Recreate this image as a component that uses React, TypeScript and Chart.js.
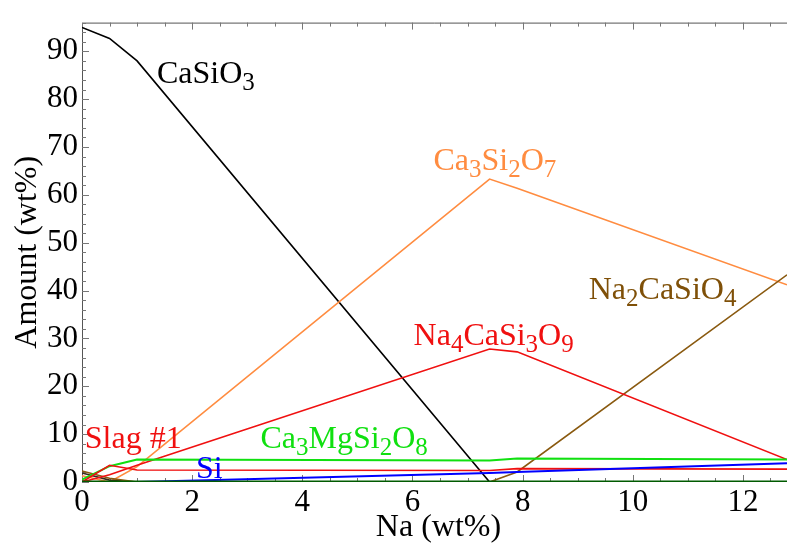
import React, { useEffect, useRef } from "react";
import { Chart, registerables } from "chart.js";

Chart.register(...registerables);

// ---- data ----
const NA_WT = [0, 0.5, 1, 7.4, 7.9, 12.8];
const CASIO3 = [95, 92.7, 88, 0, 0, 0];
const CA3SI2O7 = [1.3, 0, 3.2, 63.3, 61.4, 41.2];
const NA4CASI3O9 = [0, 1.5, 3.5, 27.8, 27.2, 4.7];
const NA2CASIO4 = [2.3, 0.8, 0, 0, 2.1, 43.3];
const CA3MGSI2O8 = [0.5, 3.3, 4.7, 4.5, 4.9, 4.7];
const SLAG1 = [0, 3.5, 2.5, 2.4, 2.8, 2.7];
const SI = [0, 0, 0, 1.9, 2.1, 3.9];
const MINOR_PHASE = [1.9, 0.4, 0, 0, 0, 0];
const ZERO_PHASE = [0, 0, 0, 0, 0, 0];

const X_TICKS = [0, 2, 4, 6, 8, 10, 12];
const Y_TICKS = [0, 10, 20, 30, 40, 50, 60, 70, 80, 90];
const X_MAX = 12.8;
const Y_MAX = 96;

// annotation labels: text with {sub}, anchored at data coords (left, baseline)
const LABELS = [
  { text: "CaSiO{3}", x: 1.36, y: 83.3, color: "#000000" },
  { text: "Ca{3}Si{2}O{7}", x: 6.38, y: 65.1, color: "#ff8c40" },
  { text: "Na{2}CaSiO{4}", x: 9.2, y: 38.2, color: "#7f5008" },
  { text: "Na{4}CaSi{3}O{9}", x: 6.02, y: 28.7, color: "#f01010" },
  { text: "Slag #1", x: 0.05, y: 7.2, color: "#f01010" },
  { text: "Ca{3}MgSi{2}O{8}", x: 3.24, y: 7.2, color: "#10e010" },
  { text: "Si", x: 2.07, y: 0.8, color: "#0000ff" },
];

const FONT = "'Liberation Serif', 'Times New Roman', serif";

function parseSegments(t: string) {
  const segs: { s: string; sub: boolean }[] = [];
  const re = /\{([^}]*)\}|([^{]+)/g;
  let m: RegExpExecArray | null;
  while ((m = re.exec(t))) {
    if (m[1] !== undefined) segs.push({ s: m[1], sub: true });
    else segs.push({ s: m[2], sub: false });
  }
  return segs;
}

const framePlugin = {
  id: "frame",
  beforeDatasetsDraw(chart: any) {
    const { ctx, chartArea, scales } = chart;
    const { left, right, top, bottom } = chartArea;
    const x = scales.x;
    const y = scales.y;
    ctx.save();
    ctx.strokeStyle = "#555555";
    ctx.lineWidth = 1;
    ctx.beginPath();
    ctx.moveTo(left + 0.5, bottom);
    ctx.lineTo(left + 0.5, top + 0.5);
    ctx.lineTo(right, top + 0.5);
    ctx.stroke();
    ctx.strokeStyle = "#777777";
    for (let i = 0; i * 2 <= Y_MAX; i++) {
      const v = i * 2;
      const py = Math.round(y.getPixelForValue(v)) + 0.5;
      const len = v % 10 === 0 ? 7 : 4;
      ctx.beginPath();
      ctx.moveTo(left, py);
      ctx.lineTo(left + len, py);
      ctx.stroke();
    }
    for (let i = 0; i * 0.5 <= X_MAX; i++) {
      const v = i * 0.5;
      const px = Math.round(x.getPixelForValue(v)) + 0.5;
      const len = i % 4 === 0 ? 7 : 4;
      ctx.beginPath();
      ctx.moveTo(px, top);
      ctx.lineTo(px, top + len);
      ctx.moveTo(px, bottom);
      ctx.lineTo(px, bottom - len);
      ctx.stroke();
    }
    ctx.restore();
  },
  afterDatasetsDraw(chart: any) {
    const { ctx, chartArea, scales } = chart;
    const x = scales.x;
    const y = scales.y;
    ctx.save();
    ctx.textBaseline = "alphabetic";
    ctx.textAlign = "left";
    for (const lab of LABELS) {
      let px = x.getPixelForValue(lab.x);
      const py = y.getPixelForValue(lab.y);
      ctx.fillStyle = lab.color;
      for (const seg of parseSegments(lab.text)) {
        if (seg.sub) {
          ctx.font = `25px ${FONT}`;
          ctx.fillText(seg.s, px, py + 7);
        } else {
          ctx.font = `32px ${FONT}`;
          ctx.fillText(seg.s, px, py);
        }
        px += ctx.measureText(seg.s).width;
      }
    }
    // axis titles
    ctx.fillStyle = "#000000";
    ctx.font = `32px ${FONT}`;
    ctx.textAlign = "center";
    ctx.textBaseline = "middle";
    const cx = (chartArea.left + chartArea.right) / 2 + 4;
    ctx.fillText("Na (wt%)", cx, chartArea.bottom + 46);
    const cy = (chartArea.top + chartArea.bottom) / 2;
    ctx.translate(28, cy);
    ctx.rotate(-Math.PI / 2);
    ctx.fillText("Amount (wt%)", 0, 0);
    ctx.restore();
  },
};

function series(vals: number[]) {
  return NA_WT.map((xv, i) => ({ x: xv, y: vals[i] }));
}

export default function App() {
  const ref = useRef<HTMLCanvasElement | null>(null);
  useEffect(() => {
    document.body.style.margin = "0";
    const canvas = ref.current;
    if (!canvas) return;
    const ds = (label: string, vals: number[], color: string, width = 1.6) => ({
      label,
      data: series(vals),
      borderColor: color,
      backgroundColor: color,
      borderWidth: width,
      pointRadius: 0,
      tension: 0,
      fill: false,
    });
    const chart = new Chart(canvas, {
      type: "line",
      data: {
        datasets: [
          ds("zero", ZERO_PHASE, "#005a00", 3),
          ds("Si", SI, "#0000ff", 2),
          ds("Slag #1", SLAG1, "#f01010"),
          ds("Ca3MgSi2O8", CA3MGSI2O8, "#10e010", 2),
          ds("Na4CaSi3O9", NA4CASI3O9, "#f01010"),
          ds("Na2CaSiO4", NA2CASIO4, "#8a5a10"),
          ds("minor", MINOR_PHASE, "#3a2a1a"),
          ds("Ca3Si2O7", CA3SI2O7, "#ff8c40"),
          ds("CaSiO3", CASIO3, "#000000"),
        ],
      },
      options: {
        responsive: false,
        animation: false,
        devicePixelRatio: 1,
        layout: { padding: { top: 17, right: 0, left: 0, bottom: 0 } },
        plugins: { legend: { display: false }, tooltip: { enabled: false } },
        scales: {
          x: {
            type: "linear",
            min: 0,
            max: X_MAX,
            grid: { display: false, drawTicks: false },
            border: { display: false },
            afterBuildTicks: (s: any) => {
              s.ticks = X_TICKS.map((v) => ({ value: v }));
            },
            afterFit: (s: any) => {
              s.height = 61;
            },
            ticks: {
              autoSkip: false,
              maxRotation: 0,
              padding: 2,
              color: "#000000",
              font: { family: FONT, size: 31 },
            },
          },
          y: {
            type: "linear",
            min: 0,
            max: Y_MAX,
            grid: { display: false, drawTicks: false },
            border: { display: false },
            afterBuildTicks: (s: any) => {
              s.ticks = Y_TICKS.map((v) => ({ value: v }));
            },
            afterFit: (s: any) => {
              s.width = 82;
            },
            ticks: {
              autoSkip: false,
              padding: 4,
              color: "#000000",
              font: { family: FONT, size: 31 },
            },
          },
        },
      },
      plugins: [framePlugin],
    });
    return () => chart.destroy();
  }, []);
  return (
    <div style={{ width: 787, height: 543, position: "relative" }}>
      <canvas ref={ref} width={787} height={543} />
    </div>
  );
}
